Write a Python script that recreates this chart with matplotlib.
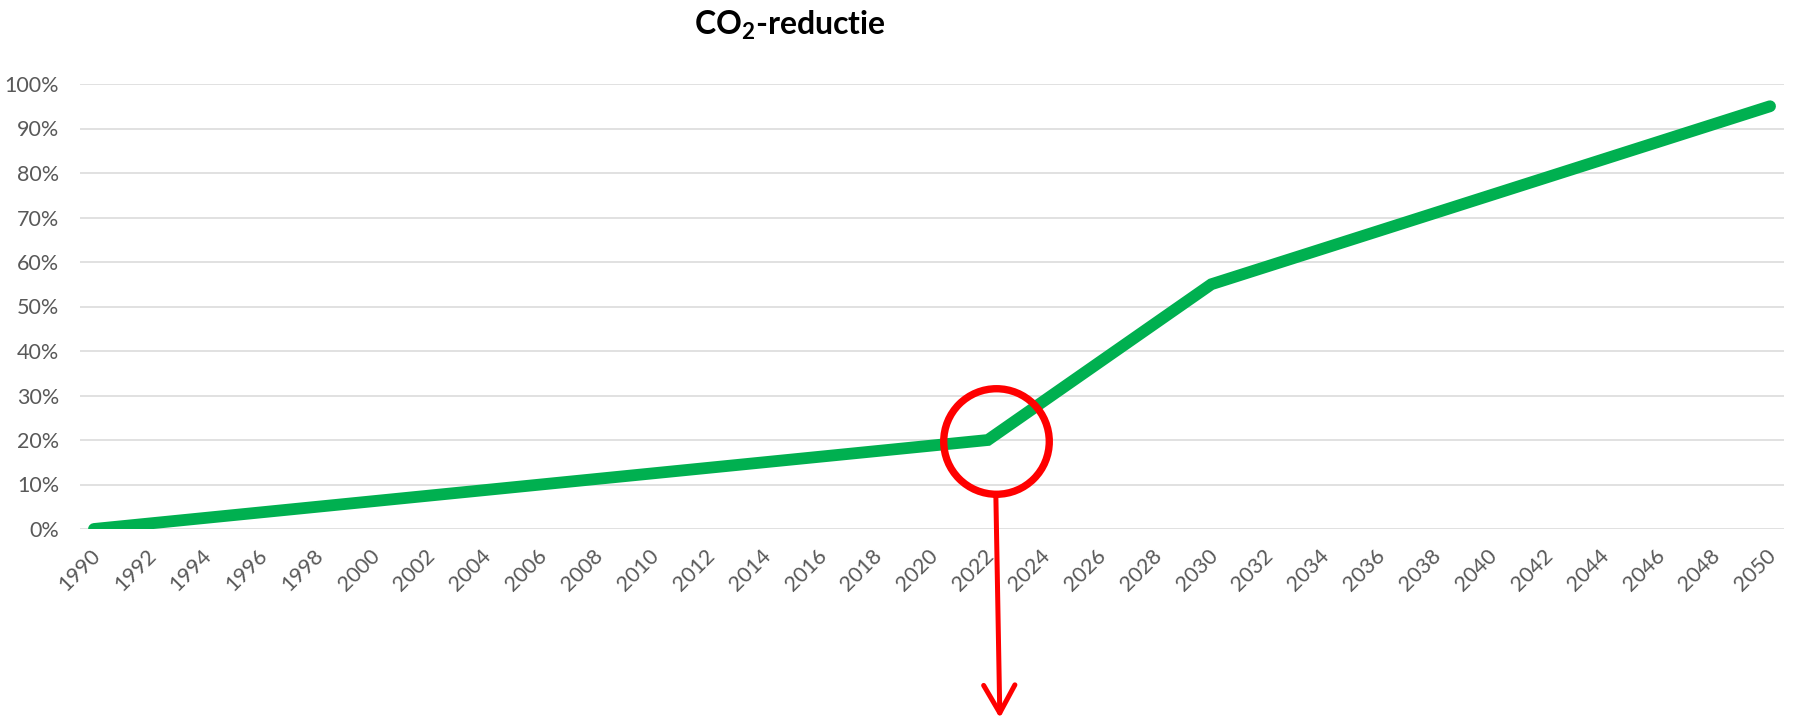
import matplotlib
matplotlib.use("Agg")
import matplotlib.pyplot as plt
from matplotlib import transforms
from matplotlib.patches import ArrowStyle
from matplotlib.ticker import PercentFormatter

# ---- data ----
years = [1990, 2022, 2030, 2050]
reduction = [0.00, 0.20, 0.55, 0.95]
highlight_year = 2022
tick_years = list(range(1990, 2051, 2))
y_ticks = [0.0, 0.1, 0.2, 0.3, 0.4, 0.5, 0.6, 0.7, 0.8, 0.9, 1.0]
title = "CO$_\\mathrm{2}$-reductie"

GREEN = "#00B050"
RED = "#FF0000"
LABEL = "#595959"
GRID = "#D9D9D9"

plt.rcParams["font.family"] = ["Lato", "DejaVu Sans"]
plt.rcParams["mathtext.fontset"] = "custom"
plt.rcParams["mathtext.rm"] = "Lato:bold"

W, H = 1794, 721
fig = plt.figure(figsize=(W / 100, H / 100), dpi=100)
left_px, right_px, top_px, bottom_px = 80, 1784, 84, 529
ax = fig.add_axes([left_px / W, (H - bottom_px) / H,
                   (right_px - left_px) / W, (bottom_px - top_px) / H])

ax.set_xlim(tick_years[0] - 0.5, tick_years[-1] + 0.5)
ax.set_ylim(0, 1)
for s in ax.spines.values():
    s.set_visible(False)

ax.set_yticks(y_ticks)
ax.yaxis.set_major_formatter(PercentFormatter(1.0, decimals=0))
ax.grid(axis="y", color=GRID, linewidth=1.1)
ax.set_axisbelow(True)
ax.tick_params(axis="y", length=0, pad=15, labelsize=15.5, labelcolor=LABEL)

ax.set_xticks(tick_years)
ax.set_xticklabels([str(y) for y in tick_years])
ax.tick_params(axis="x", length=0, pad=12, labelsize=15.5, labelcolor=LABEL)
label_shift = transforms.ScaledTranslation(-4 / 100, 0, fig.dpi_scale_trans)
for lbl in ax.get_xticklabels():
    lbl.set_rotation(45)
    lbl.set_ha("right")
    lbl.set_va("top")
    lbl.set_rotation_mode("anchor")
    lbl.set_transform(lbl.get_transform() + label_shift)

ax.plot(years, reduction, color=GREEN, linewidth=8.5, solid_capstyle="round",
        solid_joinstyle="miter", zorder=3)

# highlight circle and arrow
hv = reduction[years.index(highlight_year)]
circ_tr = transforms.offset_copy(ax.transData, fig=fig, x=8, y=-1, units="dots")
ax.plot([highlight_year], [hv], marker="o", markersize=76, markerfacecolor="none",
        markeredgecolor=RED, markeredgewidth=5.3, transform=circ_tr, zorder=4,
        clip_on=False)
start_tr = transforms.offset_copy(ax.transData, fig=fig, x=8, y=-56, units="dots")
end_tr = transforms.offset_copy(ax.transData, fig=fig, x=12, y=-278, units="dots")
ax.annotate("", xy=(highlight_year, hv), xycoords=end_tr,
            xytext=(highlight_year, hv), textcoords=start_tr,
            arrowprops=dict(arrowstyle=ArrowStyle("->", head_length=0.8, head_width=0.45),
                            mutation_scale=25, color=RED, lw=3.6,
                            shrinkA=0, shrinkB=0),
            annotation_clip=False, zorder=4)

fig.text(790 / W, 1 - 25 / H, title, ha="center", va="center",
         fontsize=23, fontweight="bold", color="black")

fig.savefig("out.png", dpi=100)
